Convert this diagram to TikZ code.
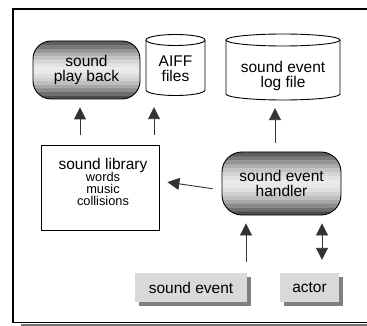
\documentclass[tikz,border=0pt]{standalone}
\usepackage{fontspec}
\setmainfont{Liberation Sans}
\usetikzlibrary{arrows.meta}

% horizontally banded grey fill: dark at top and bottom, light in the middle
\pgfdeclareverticalshading{bands}{100bp}{%
  color(0bp)=(black!70); color(28.125bp)=(black!70);
  color(28.135bp)=(black!57); color(31.25bp)=(black!57);
  color(31.26bp)=(black!45); color(34.375bp)=(black!45);
  color(34.385bp)=(black!34); color(37.5bp)=(black!34);
  color(37.51bp)=(black!25); color(40.625bp)=(black!25);
  color(40.635bp)=(black!18); color(43.75bp)=(black!18);
  color(43.76bp)=(black!13); color(46.875bp)=(black!13);
  color(46.885bp)=(black!9); color(50bp)=(black!9);
  color(50.01bp)=(black!8); color(53.125bp)=(black!8);
  color(53.135bp)=(black!11); color(56.25bp)=(black!11);
  color(56.26bp)=(black!16); color(59.375bp)=(black!16);
  color(59.385bp)=(black!23); color(62.5bp)=(black!23);
  color(62.51bp)=(black!31); color(65.625bp)=(black!31);
  color(65.635bp)=(black!41); color(68.75bp)=(black!41);
  color(68.76bp)=(black!52); color(71.875bp)=(black!52);
  color(71.885bp)=(black!63); color(100bp)=(black!63)}

\tikzset{
  bigtext/.style={font=\fontsize{15.5}{15}\selectfont, align=center},
  flow/.style={line width=0.9pt, draw=black!80,
    -{Triangle[length=12pt,width=12pt]}},
  twoway/.style={line width=0.9pt, draw=black!80,
    {Triangle[length=12pt,width=12pt]}-{Triangle[length=12pt,width=12pt]}},
  capsule/.style={shading=bands, draw=black, line width=0.9pt, rounded corners=18pt,
    bigtext, inner sep=0pt},
  store/.style={bigtext, inner sep=0pt},
  drum/.style={line width=0.9pt, fill=white},
  source/.style={bigtext, fill=black!15, inner sep=0pt,
    minimum height=29pt},
  dropshade/.style={fill=black!50},
}

\begin{document}
\begin{tikzpicture}[x=1pt,y=-1pt]
\useasboundingbox (0,0) rectangle (367,326);
\clip (0,0) rectangle (367,326);

% outer frame, open to the right, with a shadow under the bottom edge
\draw[black!55, line width=2pt] (21,324.6) -- (380,324.6);
\draw[line width=1.2pt] (380,9) -- (13,9) -- (13,322.5) -- (380,322.5);

% sound play back
\node[capsule, minimum width=107pt, minimum height=58pt] (play) at (86.5,70)
  {sound\\play back};

% AIFF files store
\draw[drum]
  (146,40) -- (146,90) arc[start angle=180, end angle=360, x radius=29.5, y radius=-5.5]
  -- (205,40) arc[start angle=0, end angle=180, x radius=29.5, y radius=-5.5];
\draw[line width=0.9pt] (146,40) arc[start angle=180, end angle=360, x radius=29.5, y radius=-5.5];
\node[store, minimum width=59pt, minimum height=53pt] (aiff) at (175.5,69) {AIFF\\files};

% sound event log file store
\draw[drum]
  (226,40) -- (226,94) arc[start angle=180, end angle=360, x radius=57, y radius=-6]
  -- (340,40) arc[start angle=0, end angle=180, x radius=57, y radius=-6];
\draw[line width=0.9pt] (226,40) arc[start angle=180, end angle=360, x radius=57, y radius=-6];
\node[store, minimum width=114pt, minimum height=49pt] (log) at (283,75.5)
  {sound event\\log file};

% sound library
\node[draw, line width=0.9pt, minimum width=118pt, minimum height=85pt, inner sep=0pt]
  (lib) at (100,187.5) {};
\node[inner sep=0pt, align=center] (libtext) at (103,182)
  {{\fontsize{15.5}{15}\selectfont sound library}\\[-1pt]
   {\fontsize{12.8}{13.5}\selectfont words}\\
   {\fontsize{12.8}{13.5}\selectfont music}\\
   {\fontsize{12.8}{13.5}\selectfont collisions}};

% sound event handler
\node[capsule, rounded corners=20pt, minimum width=119pt, minimum height=63pt]
  (handler) at (281.5,183.5) {sound event\\handler};

% external sources with drop shadows
\fill[dropshade] (138.5,276.5) rectangle (250.5,305.5);
\node[source, minimum width=112pt] (event) at (191,287.5) {sound event};
\fill[dropshade] (283.5,276.5) rectangle (342.5,305.5);
\node[source, minimum width=59pt] (actor) at (309.5,287.5) {actor};

% connectors
\draw[flow, shorten <=10pt, shorten >=8pt]
  ([xshift=-20pt]lib.north) -- ([xshift=-6.5pt]play.south);
\draw[flow, shorten <=10pt, shorten >=11.5pt]
  ([xshift=54pt]lib.north) -- ([xshift=-21.5pt]aiff.south);
\draw[flow, shorten <=8.5pt, shorten >=8pt]
  ([xshift=-6.5pt]handler.north) -- ([xshift=-8pt]log.south);
\draw[flow, shorten <=9pt, shorten >=8pt]
  ([yshift=-6.5pt]handler.west) -- ([yshift=6.5pt]lib.east);
\draw[flow, shorten <=11pt, shorten >=8pt]
  ([xshift=55pt]event.north) -- ([xshift=-35.5pt]handler.south);
\draw[twoway, shorten <=13pt, shorten >=8pt]
  ([xshift=12.5pt]actor.north) -- ([xshift=40.5pt]handler.south);
\end{tikzpicture}
\end{document}
